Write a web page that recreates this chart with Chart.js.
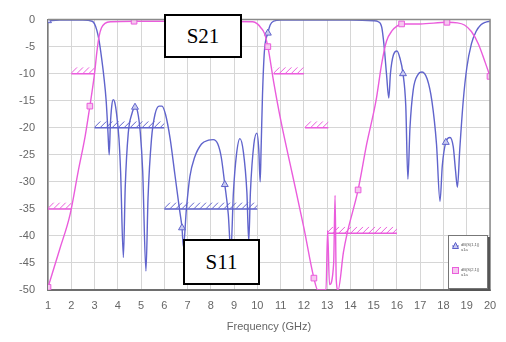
<!DOCTYPE html>
<html>
<head>
<meta charset="utf-8">
<script src="https://cdn.jsdelivr.net/npm/chart.js@4"></script>
<style>
  html, body { margin: 0; padding: 0; background: #fff; }
  #wrap { position: relative; width: 506px; height: 342px; }
  .tag {
    position: absolute; background: #fff; border: 2px solid #000; box-sizing: border-box;
    font-family: "Liberation Serif", "DejaVu Serif", serif; font-size: 21px;
    display: flex; align-items: center; justify-content: center; color: #000;
  }
  #legend {
    position: absolute; left: 448px; top: 235px; width: 40px; height: 54px; box-sizing: border-box;
    background: #fff; border: 1px solid #777; box-shadow: 2px 2px 0 #555;
    font-family: "Liberation Sans", sans-serif; font-size: 4px; color: #555; line-height: 5px;
  }
  .lg { position: absolute; left: 12px; }
  .mk { position: absolute; left: 3px; width: 7px; height: 7px; }
</style>
</head>
<body>
<div id="wrap">
  <canvas id="chart" width="506" height="342"></canvas>
  <div class="tag" style="left:164px;top:14px;width:78px;height:44px;">S21</div>
  <div class="tag" style="left:183px;top:239px;width:77px;height:46px;">S11</div>
  <div id="legend">
    <svg class="mk" style="top:6px" viewBox="0 0 7 7"><line x1="0" y1="4" x2="7" y2="4" stroke="#6468cc"/><polygon points="3.5,0.5 6.5,6.5 0.5,6.5" fill="#c9cbf0" stroke="#5b5fc9"/></svg>
    <div class="lg" style="top:6px">dB(S(1,1))<br>u1a</div>
    <svg class="mk" style="top:31px" viewBox="0 0 7 7"><line x1="0" y1="3.5" x2="7" y2="3.5" stroke="#ea5fdc"/><rect x="0.5" y="0.5" width="6" height="6" fill="#f6c6ef" stroke="#ea5fdc"/></svg>
    <div class="lg" style="top:31px">dB(S(2,1))<br>u1a</div>
  </div>
</div>
<script>
// reflection (blue)
const s11Freq = [1, 1.5, 2, 2.5, 2.9, 3, 3.1, 3.2, 3.3, 3.4, 3.5, 3.58, 3.63, 3.68, 3.74, 3.8, 3.87, 3.95, 4.05, 4.12, 4.24,
  4.32, 4.45, 4.6, 4.74, 4.85, 4.97, 5.07, 5.21, 5.3, 5.45, 5.6, 5.78, 5.9, 6.05, 6.25, 6.45, 6.65, 6.76, 6.82,
  6.95, 7.1, 7.3, 7.6, 7.9, 8.1, 8.3, 8.45, 8.6, 8.75, 8.86, 8.97, 9.1, 9.25, 9.4, 9.55, 9.63, 9.7, 9.85, 9.98,
  10.06, 10.12, 10.16, 10.22, 10.3, 10.45, 10.55, 10.7, 11, 12, 13, 14, 15, 15.2, 15.35, 15.45, 15.55, 15.65,
  15.72, 15.85, 16.0, 16.12, 16.26, 16.38, 16.47, 16.56, 16.7, 16.9, 17.08, 17.3, 17.5, 17.7, 17.85, 17.95,
  18.1, 18.28, 18.42, 18.52, 18.6, 18.7, 18.85, 19.0, 19.2, 19.4, 19.6, 19.8, 20];
const s11Db = [-0.2, -0.1, -0.1, -0.1, -0.3, -0.8, -2, -4, -7, -10.5, -15, -21, -25, -19.5, -16, -14.8, -15.3, -17.5, -22, -28, -44,
  -31, -21, -17.5, -16.2, -17, -21, -28, -46.5, -33, -22, -17.5, -16, -16, -17.5, -22, -28.5, -35, -38.5, -42,
  -35, -29, -25.5, -23, -22.3, -22.2, -23, -25.5, -30.5, -36, -43, -32, -25, -22, -24.5, -32, -41, -32, -23, -21,
  -24, -30, -24, -14, -6, -2.5, -1, -0.3, -0.1, -0.1, -0.1, -0.1, -0.2, -0.4, -1.5, -5, -10, -14.5,
  -10, -6.5, -5.8, -7, -10, -16, -29.5, -20, -13, -10.2, -9.7, -11, -15, -23, -33.6, -27,
  -22.7, -21.8, -23.5, -28, -31, -24, -15, -9, -4.5, -2.2, -1, -0.5, -0.3];
const s11Markers = [1, 4.74, 6.76, 8.6, 10.45, 16.26, 18.1];

// transmission (magenta)
const s21Freq = [1, 1.5, 1.95, 2.3, 2.6, 2.8, 3.0, 3.1, 3.2, 3.3, 3.45, 3.7, 4.7, 6, 8, 9.8, 10.0, 10.15, 10.3, 10.45,
  10.7, 11.0, 11.5, 12.0, 12.43, 12.6, 12.95, 13.02, 13.1, 13.28, 13.34, 13.39, 13.47, 13.7, 13.85, 14.33, 14.7,
  15.1, 15.35, 15.55, 15.8, 16.0, 16.2, 17, 18.15, 18.6, 18.9, 19.2, 19.5, 19.8, 20];
const s21Db = [-49.5, -42.5, -36, -28, -21.5, -16, -10, -6, -3, -1.5, -0.7, -0.4, -0.3, -0.3, -0.3, -0.4, -0.8, -1.5, -2.5, -5,
  -11.5, -18.5, -28.5, -38.5, -47.8, -50, -50, -39, -49, -45, -32.5, -48, -50, -43, -39.7, -31.5, -23,
  -15, -8, -4, -2, -1.2, -0.8, -0.8, -0.5, -0.6, -1, -2.2, -4.5, -8, -10.5];
const s21Markers = [1, 2.8, 4.7, 10.45, 12.43, 14.33, 16.2, 18.15, 20];

// spec limit lines: [from GHz, to GHz, dB]
const s11Masks = [[3, 6, -20], [6, 10, -35]];
const s21Masks = [[1, 2, -35], [2, 3, -10], [10.7, 12, -10], [12.05, 13.05, -20], [13, 16, -39.5]];

const xTicks = [1, 20, 1];
const yTicks = [-50, 0, 5];

const BLUE = '#6064cc';
const PINK = '#ea5cdc';

function curve(freq, db, markers, color, style, fillPt) {
  return {
    data: freq.map((f, i) => ({x: f, y: db[i]})),
    borderColor: color, borderWidth: 1.4,
    cubicInterpolationMode: 'monotone',
    pointStyle: style,
    pointRadius: freq.map(f => markers.includes(f) ? 4 : 0),
    pointBackgroundColor: fillPt, pointBorderColor: color, pointBorderWidth: 1,
    fill: false, order: 1
  };
}

function masks(list, color) {
  return list.map(m => ({
    data: [{x: m[0], y: m[2]}, {x: m[1], y: m[2]}],
    borderColor: color, borderWidth: 1.5, pointRadius: 0,
    fill: false, order: 2, mask: true
  }));
}

// diagonal hatch above each limit line
const hatcher = {
  id: 'hatcher',
  beforeDatasetsDraw(chart) {
    const ctx = chart.ctx, xs = chart.scales.x, ys = chart.scales.y;
    chart.data.datasets.forEach(ds => {
      if (!ds.mask) return;
      const x0 = xs.getPixelForValue(ds.data[0].x), x1 = xs.getPixelForValue(ds.data[1].x);
      const y = ys.getPixelForValue(ds.data[0].y), h = 6.5;
      ctx.save();
      ctx.beginPath(); ctx.rect(x0, y - h, x1 - x0, h); ctx.clip();
      ctx.strokeStyle = ds.borderColor; ctx.lineWidth = 1;
      ctx.beginPath();
      for (let x = x0 - h; x < x1; x += 6) { ctx.moveTo(x, y); ctx.lineTo(x + h, y - h); }
      ctx.stroke();
      ctx.restore();
    });
  }
};

const frame = {
  id: 'frame',
  afterDraw(chart) {
    const a = chart.chartArea, ctx = chart.ctx;
    ctx.save();
    ctx.strokeStyle = '#8a8a8a'; ctx.lineWidth = 1.5;
    ctx.beginPath();
    ctx.moveTo(a.left, a.top); ctx.lineTo(a.right, a.top); ctx.lineTo(a.right, a.bottom);
    ctx.stroke();
    ctx.restore();
  }
};

const ctx = document.getElementById('chart').getContext('2d');
new Chart(ctx, {
  type: 'line',
  data: {
    datasets: [
      ...masks(s11Masks, BLUE),
      ...masks(s21Masks, PINK),
      curve(s21Freq, s21Db, s21Markers, PINK, 'rect', '#f6c6ef'),
      curve(s11Freq, s11Db, s11Markers, BLUE, 'triangle', '#c9cbf0')
    ]
  },
  options: {
    responsive: false, animation: false,
    layout: {padding: {top: 15, right: 16, left: 0, bottom: 0}},
    plugins: {legend: {display: false}, tooltip: {enabled: false}},
    scales: {
      x: {
        type: 'linear', min: xTicks[0], max: xTicks[1],
        afterFit: s => { s.height = 52; },
        ticks: {stepSize: xTicks[2], padding: 9, color: '#666', font: {family: 'Liberation Sans', size: 11}},
        grid: {color: '#d6d6d6', drawTicks: false},
        border: {color: '#6e6e6e', width: 2},
        title: {display: true, text: 'Frequency (GHz)', color: '#666', padding: {top: 0, bottom: 8},
          font: {family: 'Liberation Sans', size: 11}}
      },
      y: {
        min: yTicks[0], max: yTicks[1],
        afterFit: s => { s.width = 48; },
        ticks: {stepSize: yTicks[2], padding: 13, color: '#666', font: {family: 'Liberation Sans', size: 11}},
        grid: {color: '#d6d6d6', drawTicks: false},
        border: {color: '#7a7a7a', width: 1.5}
      }
    }
  },
  plugins: [hatcher, frame]
});
</script>
</body>
</html>
